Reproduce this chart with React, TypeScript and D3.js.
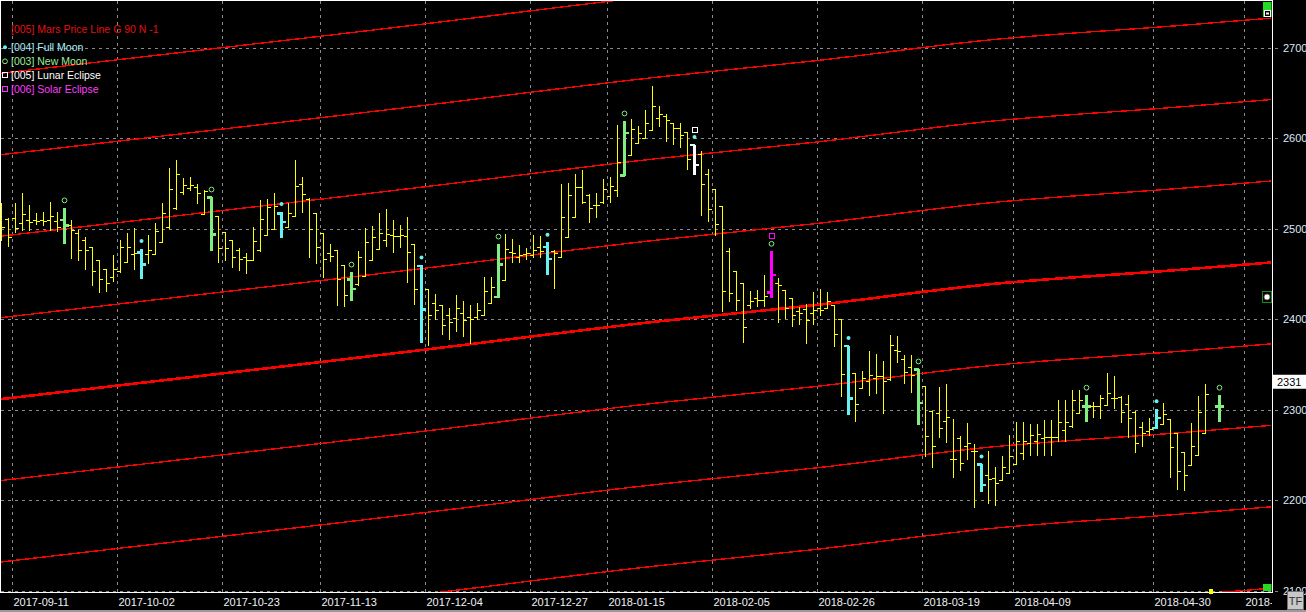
import React from 'react';
import * as d3 from 'd3';

const W = 1306;
const H = 612;
const PLOT = { left: 1, top: 1, right: 1272, bottom: 592 };

// OHLC per trading bar (null = no bar)
const opens: (number | null)[] = [
  2506, 2511, 2512, 2506, 2510, 2510, 2510, 2510, 2509, 2510,
  2504, 2495, 2488, 2480, 2466, 2456, 2447, 2453, 2463, 2472,
  2474, 2472, 2472, 2485, 2502, 2523, 2541, 2545, 2546, 2516,
  2535, 2514, 2496, 2488, 2477, 2469, 2466, 2477, 2493, 2500,
  2517, 2502, 2514, 2550, 2533, 2517, 2495, 2473, 2477, 2460,
  2444, 2439, 2448, 2466, 2478, 2488, 2493, 2492, 2492, 2483,
  2459, 2434, 2418, 2416, 2405, 2401, 2407, 2403, 2403, 2405,
  2418, 2425, 2443, 2474, 2469, 2472, 2471, 2480, 2480, 2475,
  2469, 2491, 2513, 2546, 2537, 2526, 2530, 2536, 2543, 2559,
  2582, 2595, 2600, 2609, 2622, 2625, 2617, 2611, 2607, 2593,
  2583, 2560, 2544, 2525, 2475, 2453, 2440, 2416, 2423, 2421,
  2430, 2440, 2432, 2423, 2409, 2411, 2407, 2412, 2413, 2416,
  2400, 2371, 2341, 2324, 2332, 2335, 2337, 2334, 2366, 2356,
  2347, 2345, 2326, 2299, 2296, 2288, 2246, 2269, 2260, 2254,
  2240, 2228, 2225, 2222, 2230, 2240, 2252, 2263, 2265, 2269,
  2270, 2270, 2278, 2282, 2296, 2304, 2304, 2304, 2305, 2313,
  2314, 2306, 2298, 2281, 2277, 2280, 2284, 2290, 2274, 2253,
  2239, 2250, 2274, null, 2304,
];
const highs: (number | null)[] = [
  2528, 2512, 2528, 2540, 2526, 2518, 2519, 2530, 2519, 2523,
  2510, 2499, 2491, 2480, 2466, 2456, 2471, 2488, 2495, 2501,
  2478, 2493, 2506, 2529, 2567, 2576, 2556, 2557, 2550, 2543,
  2535, 2514, 2497, 2488, 2479, 2473, 2502, 2532, 2533, 2540,
  2519, 2528, 2576, 2557, 2534, 2518, 2495, 2483, 2477, 2460,
  2452, 2476, 2501, 2503, 2517, 2522, 2510, 2504, 2513, 2483,
  2460, 2434, 2428, 2416, 2413, 2427, 2420, 2416, 2418, 2447,
  2447, 2483, 2494, 2489, 2482, 2479, 2493, 2492, 2485, 2477,
  2550, 2551, 2561, 2565, 2538, 2540, 2555, 2557, 2615, 2619,
  2621, 2614, 2631, 2658, 2636, 2627, 2617, 2617, 2607, 2593,
  2586, 2566, 2544, 2525, 2479, 2453, 2440, 2431, 2432, 2449,
  2475, 2446, 2432, 2423, 2414, 2417, 2430, 2433, 2430, 2416,
  2400, 2371, 2341, 2343, 2365, 2362, 2354, 2383, 2381, 2360,
  2361, 2345, 2326, 2299, 2325, 2329, 2290, 2271, 2285, 2262,
  2240, 2254, 2237, 2249, 2272, 2287, 2287, 2284, 2284, 2289,
  2289, 2311, 2311, 2322, 2322, 2316, 2309, 2316, 2341, 2337,
  2315, 2316, 2299, 2287, 2291, 2301, 2308, 2290, 2274, 2253,
  2285, 2315, 2329, null, 2316,
];
const lows: (number | null)[] = [
  2488, 2481, 2497, 2499, 2499, 2505, 2504, 2499, 2498, 2483,
  2468, 2466, 2456, 2438, 2430, 2431, 2442, 2452, 2463, 2456,
  2445, 2462, 2472, 2485, 2501, 2522, 2538, 2543, 2529, 2516,
  2475, 2463, 2465, 2458, 2455, 2451, 2466, 2476, 2493, 2500,
  2490, 2502, 2514, 2519, 2469, 2462, 2447, 2464, 2416, 2415,
  2420, 2438, 2448, 2466, 2478, 2481, 2474, 2480, 2441, 2417,
  2374, 2372, 2400, 2384, 2378, 2387, 2381, 2374, 2400, 2405,
  2418, 2424, 2443, 2463, 2463, 2467, 2469, 2469, 2449, 2435,
  2469, 2491, 2513, 2528, 2508, 2513, 2528, 2530, 2536, 2558,
  2582, 2595, 2600, 2609, 2614, 2597, 2594, 2590, 2566, 2559,
  2515, 2509, 2493, 2409, 2420, 2410, 2375, 2412, 2415, 2415,
  2424, 2397, 2401, 2393, 2395, 2374, 2395, 2405, 2412, 2371,
  2315, 2294, 2288, 2324, 2316, 2319, 2297, 2333, 2353, 2330,
  2320, 2283, 2249, 2237, 2270, 2264, 2226, 2234, 2246, 2193,
  2209, 2197, 2195, 2222, 2230, 2240, 2246, 2250, 2250, 2250,
  2250, 2265, 2265, 2281, 2296, 2286, 2292, 2291, 2305, 2302,
  2287, 2270, 2253, 2260, 2272, 2279, 2284, 2226, 2212, 2211,
  2239, 2250, 2274, null, 2287,
];
const closes: (number | null)[] = [
  2502, 2491, 2501, 2516, 2508, 2509, 2509, 2514, 2502, 2504,
  2499, 2477, 2477, 2453, 2445, 2440, 2456, 2480, 2480, 2473,
  2461, 2477, 2498, 2518, 2544, 2560, 2548, 2548, 2540, 2542,
  2494, 2479, 2479, 2469, 2467, 2465, 2487, 2511, 2524, 2525,
  2508, 2517, 2547, 2539, 2500, 2480, 2467, 2470, 2445, 2427,
  2434, 2469, 2485, 2491, 2495, 2494, 2492, 2493, 2474, 2433,
  2411, 2405, 2410, 2394, 2397, 2413, 2399, 2400, 2410, 2431,
  2436, 2461, 2478, 2473, 2471, 2473, 2477, 2475, 2467, 2473,
  2513, 2537, 2546, 2530, 2523, 2526, 2544, 2547, 2574, 2606,
  2610, 2606, 2617, 2636, 2627, 2620, 2611, 2604, 2577, 2571,
  2550, 2522, 2505, 2431, 2429, 2421, 2391, 2420, 2421, 2426,
  2449, 2438, 2412, 2405, 2407, 2399, 2410, 2410, 2420, 2384,
  2340, 2313, 2306, 2335, 2339, 2337, 2332, 2372, 2365, 2342,
  2338, 2308, 2271, 2260, 2280, 2292, 2246, 2241, 2263, 2255,
  2217, 2224, 2219, 2237, 2249, 2265, 2265, 2272, 2273, 2270,
  2270, 2286, 2287, 2311, 2311, 2304, 2304, 2313, 2319, 2313,
  2298, 2291, 2263, 2274, 2279, 2291, 2295, 2259, 2232, 2228,
  2260, 2298, 2317, null, 2304,
];

const fullMoonBars = [20, 40, 60, 78, 99, 121, 140, 165];
const newMoonBars = [9, 30, 50, 71, 89, 110, 131, 155, 174];
const lunarEclipseBars = [99];
const solarEclipseBars = [110];

const dateTickBars = [2, 17, 32, 46, 61, 76, 87, 102, 117, 132, 145, 165, 178];
const dateTickLabels = [
  '2017-09-11', '2017-10-02', '2017-10-23', '2017-11-13', '2017-12-04', '2017-12-27',
  '2018-01-15', '2018-02-05', '2018-02-26', '2018-03-19', '2018-04-09', '2018-04-30', '2018-',
];
const priceTicks = [2100, 2200, 2300, 2400, 2500, 2600, 2700];
const lastPrice = 2331;

// Mars price line (central harmonic) read at bar positions
const marsBars = [-0.2, 47, 61, 93.4, 116.4, 141.2, 168.1, 181.4];
const marsValues = [2311.7, 2354.0, 2366.9, 2397.3, 2415.8, 2438.7, 2454.5, 2462.8];
const marsOffsets = [-4, -3, -2, -1, 0, 1, 2, 3, 4];
const marsStep = 90;

const legendItems = [
  { label: '[004] Full Moon', color: '#a8eef8', marker: 'dot', mcolor: '#66f2f2' },
  { label: '[003] New Moon', color: '#98ec98', marker: 'circle', mcolor: '#80ee80' },
  { label: '[005] Lunar Eclipse', color: '#ffffff', marker: 'square', mcolor: '#ffffff' },
  { label: '[006] Solar Eclipse', color: '#ff3cff', marker: 'square', mcolor: '#ff30ff' },
];

const YELLOW = '#ffff00';
const CYAN = '#66f2f2';
const GREEN = '#80ee80';
const MAGENTA = '#ff00ff';
const RED = '#ff0000';
const GRID = '#8a8a8a';
const FONT = '"Liberation Sans", Arial, sans-serif';

export default function App() {
  const x = d3.scaleLinear().domain([0, 181.5]).range([1.3, 1271.8]);
  const y = d3.scaleLinear().domain([2100, 2700]).range([590.8, 47.8]);

  const marsLine = (k: number) =>
    d3
      .line<number>()
      .x((_, j) => x(marsBars[j]))
      .y((v) => y(v + k * marsStep))
      .curve(d3.curveMonotoneX)(marsValues) || '';

  const px = (i: number) => Math.round(x(i)) + 0.5;
  const py = (v: number) => Math.round(y(v)) + 0.5;

  const bars = opens.map((o, i) => {
    const h = highs[i];
    const l = lows[i];
    const c = closes[i];
    if (o == null || h == null || l == null || c == null) return null;
    const cx = px(i);
    const isLunar = lunarEclipseBars.includes(i);
    const isSolar = solarEclipseBars.includes(i);
    const isFM = fullMoonBars.includes(i);
    const isNM = newMoonBars.includes(i);
    const special = isLunar || isSolar || isFM || isNM;
    if (!special) {
      return (
        <g key={i} stroke={YELLOW} strokeWidth={1}>
          <line x1={cx} x2={cx} y1={Math.round(y(h))} y2={Math.round(y(l)) + 1} />
          <line x1={cx - 3.5} x2={cx} y1={py(o)} y2={py(o)} />
          <line x1={cx} x2={cx + 3.5} y1={py(c)} y2={py(c)} />
        </g>
      );
    }
    const col = isLunar ? '#ffffff' : isSolar ? MAGENTA : isFM ? CYAN : GREEN;
    const tickCol = isLunar ? '#d8ffff' : col;
    return (
      <g key={i}>
        <rect x={cx - 1.5} y={y(h)} width={3} height={y(l) - y(h)} fill={col} />
        <rect x={cx - 4.5} y={y(o) - 1} width={4.5} height={2.5} fill={tickCol} />
        <rect x={cx} y={y(c) - 1} width={4.5} height={2.5} fill={tickCol} />
      </g>
    );
  });

  const markers: React.ReactNode[] = [];
  fullMoonBars.forEach((i) => {
    const h = highs[i];
    if (h == null) return;
    markers.push(<circle key={'fm' + i} cx={px(i)} cy={y(h) - 7.6} r={2} fill={CYAN} />);
  });
  newMoonBars.forEach((i) => {
    const h = highs[i];
    if (h == null) return;
    markers.push(
      <circle key={'nm' + i} cx={px(i)} cy={y(h) - 7.6} r={2.4} fill="none" stroke={GREEN} strokeWidth={1} />
    );
  });
  lunarEclipseBars.forEach((i) => {
    const h = highs[i];
    if (h == null) return;
    markers.push(
      <rect key={'le' + i} x={Math.round(px(i) - 3) + 0.5} y={Math.round(y(h) - 18) + 0.5} width={5} height={5}
        fill="none" stroke="#ffffff" strokeWidth={1} shapeRendering="crispEdges" />
    );
  });
  solarEclipseBars.forEach((i) => {
    const h = highs[i];
    if (h == null) return;
    markers.push(
      <rect key={'se' + i} x={Math.round(px(i) - 3) + 0.5} y={Math.round(y(h) - 18) + 0.5} width={5} height={5}
        fill="none" stroke={MAGENTA} strokeWidth={1} shapeRendering="crispEdges" />
    );
  });

  return (
    <svg
      width={W}
      height={H}
      style={{ position: 'absolute', left: 0, top: 0, background: '#000', display: 'block' }}
      fontFamily={FONT}
    >
      <defs>
        <clipPath id="plotClip">
          <rect x={PLOT.left} y={PLOT.top} width={PLOT.right - PLOT.left} height={PLOT.bottom - PLOT.top} />
        </clipPath>
        <clipPath id="axisClip">
          <rect x={0} y={592} width={1272} height={20} />
        </clipPath>
      </defs>
      <rect x={0} y={0} width={W} height={H} fill="#000" />

      {/* grid */}
      <g stroke={GRID} strokeWidth={1} strokeDasharray="3,4" shapeRendering="crispEdges">
        {priceTicks.map((p) => (
          <line key={'h' + p} x1={PLOT.left} x2={1281} y1={Math.round(y(p)) + 0.5} y2={Math.round(y(p)) + 0.5} />
        ))}
        {dateTickBars.map((b) => (
          <line key={'v' + b} x1={Math.round(x(b) - 3.5) + 0.5} x2={Math.round(x(b) - 3.5) + 0.5} y1={PLOT.top} y2={PLOT.bottom} />
        ))}
      </g>

      {/* Mars price lines */}
      <g clipPath="url(#plotClip)" fill="none" stroke={RED} shapeRendering="crispEdges">
        {marsOffsets.map((k) => (
          <path key={'m' + k} d={marsLine(k)} strokeWidth={k === 0 ? 2.6 : 1.4} />
        ))}
      </g>

      {/* bars */}
      <g clipPath="url(#plotClip)" shapeRendering="crispEdges">
        {bars}
      </g>
      <g clipPath="url(#plotClip)">{markers}</g>

      {/* legend */}
      <text x={11} y={33} fontSize={10.5} fill="#e41010">
        [005] Mars Price Line G 90 N -1
      </text>
      {legendItems.map((it, j) => {
        const cy = 47.3 + j * 14;
        return (
          <g key={it.label}>
            {it.marker === 'dot' && <circle cx={5} cy={cy} r={2} fill={it.mcolor} />}
            {it.marker === 'circle' && <circle cx={5} cy={cy} r={2.4} fill="none" stroke={it.mcolor} />}
            {it.marker === 'square' && (
              <rect x={2.5} y={Math.round(cy - 3) + 0.5} width={5} height={5} fill="none" stroke={it.mcolor}
                shapeRendering="crispEdges" />
            )}
            <text x={11} y={cy + 3.8} fontSize={10.5} fill={it.color}>
              {it.label}
            </text>
          </g>
        );
      })}

      {/* plot frame */}
      <rect
        x={PLOT.left - 0.5}
        y={0.5}
        width={PLOT.right - PLOT.left + 0.5}
        height={PLOT.bottom - 0.5}
        fill="none"
        stroke="#ffffff"
        strokeWidth={1}
        shapeRendering="crispEdges"
      />

      {/* right-side icons */}
      <rect x={1263} y={2} width={8.5} height={15} fill="#22dd22" />
      <rect x={1264.5} y={10.5} width={6} height={6} fill="#000" stroke="#fff" strokeWidth={1} />
      <rect x={1266} y={12.5} width={3} height={2} fill="#fff" />
      <rect x={1262.5} y={291.5} width={9} height={11} fill="#000" stroke="#1a8a1a" strokeWidth={1} />
      <circle cx={1267} cy={297} r={3} fill="#fff" stroke="#555" strokeWidth={0.8} />
      <rect x={1263} y={584} width={8.5} height={7} fill="#22dd22" />
      <rect x={1209} y={589} width={4} height={5} fill={YELLOW} />

      {/* price axis labels */}
      <g fontSize={11} fill="#dfe8f4">
        {priceTicks.map((p) => (
          <text key={'pl' + p} x={1283} y={y(p) + 4}>
            {p}
          </text>
        ))}
      </g>
      <rect x={1273} y={y(lastPrice) - 7} width={33} height={14} fill="#ffffff" />
      <text x={1277} y={y(lastPrice) + 4} fontSize={11} fill="#000">
        {lastPrice}
      </text>

      {/* date axis labels */}
      <g fontSize={11} fill="#eef2f8" clipPath="url(#axisClip)">
        {dateTickBars.map((b, j) => (
          <text key={'dl' + b} x={Math.round(x(b) - 3.5) + 1.5} y={606}>
            {dateTickLabels[j]}
          </text>
        ))}
      </g>

      {/* bottom strip and TF button */}
      <rect x={0} y={610} width={W} height={2} fill="#9a9a9a" />
      <rect x={1287.5} y={591.5} width={16} height={18} fill="#c8c8c8" stroke="#707070" />
      <text x={1295.5} y={605} fontSize={11} fill="#303030" textAnchor="middle">
        TF
      </text>
    </svg>
  );
}
